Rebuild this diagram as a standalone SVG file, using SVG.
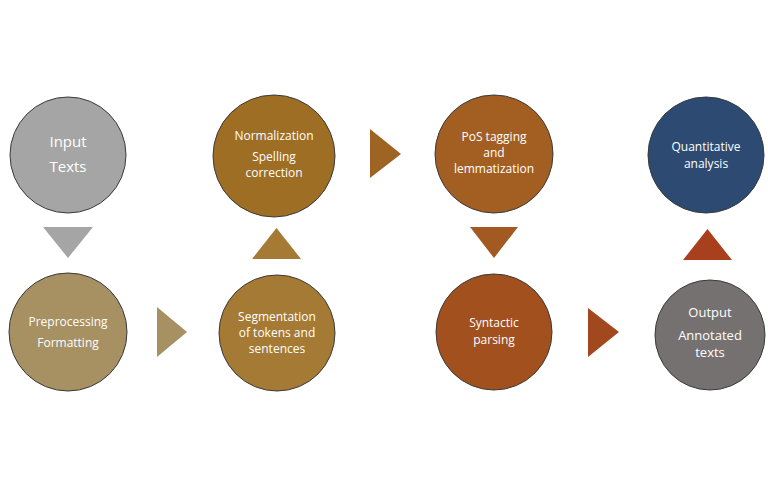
<svg xmlns="http://www.w3.org/2000/svg" width="768" height="483" viewBox="0 0 768 483">
<style>
circle{stroke:#3a3a3a;stroke-width:1}
text{font-family:"Open Sans","Liberation Sans",sans-serif;font-size:12px;fill:#fff;text-anchor:middle}
.big{font-size:15px}
.o{font-size:13px}
</style>
<rect width="768" height="483" fill="#fff"/>
<g id="input"><circle cx="68" cy="155" r="58" fill="#a5a5a5"/><text class="big" x="68" y="147">Input</text><text class="big" x="68" y="172">Texts</text></g>
<g id="preprocessing"><circle cx="68" cy="332" r="59" fill="#a79062"/><text x="68" y="326">Preprocessing</text><text x="68" y="347">Formatting</text></g>
<g id="normalization"><circle cx="274" cy="156" r="61" fill="#9e6e24"/><text x="274" y="140">Normalization</text><text x="274" y="161">Spelling</text><text x="274" y="177">correction</text></g>
<g id="segmentation"><circle cx="277" cy="333" r="58" fill="#a47a34"/><text x="277" y="321">Segmentation</text><text x="277" y="337">of tokens and</text><text x="277" y="353">sentences</text></g>
<g id="pos"><circle cx="494" cy="154" r="59" fill="#a35f22"/><text x="494" y="141">PoS tagging</text><text x="494" y="157">and</text><text x="494" y="173">lemmatization</text></g>
<g id="syntactic"><circle cx="494" cy="332" r="58" fill="#a2501e"/><text x="494" y="327">Syntactic</text><text x="494" y="344">parsing</text></g>
<g id="quantitative"><circle cx="706" cy="155" r="58" fill="#2c4a72"/><text x="706" y="151">Quantitative</text><text x="706" y="168">analysis</text></g>
<g id="output"><circle cx="710" cy="335" r="55" fill="#767171"/><text class="o" x="710" y="317">Output</text><text class="o" x="710" y="340">Annotated</text><text class="o" x="710" y="357">texts</text></g>
<g id="connectors">
<polygon points="43,227 93,227 68,258" fill="#a5a5a5"/>
<polygon points="157,307 187,332 157,357" fill="#a79062"/>
<polygon points="252,259 301,259 276.5,228" fill="#a47a34"/>
<polygon points="370,129 401,154 370,178" fill="#9e6424"/>
<polygon points="470,227 518,227 494,258" fill="#a35a22"/>
<polygon points="588,308 619,332 588,357" fill="#a2481e"/>
<polygon points="683,260 732,260 707.5,229" fill="#a8401e"/>
</g>
</svg>
